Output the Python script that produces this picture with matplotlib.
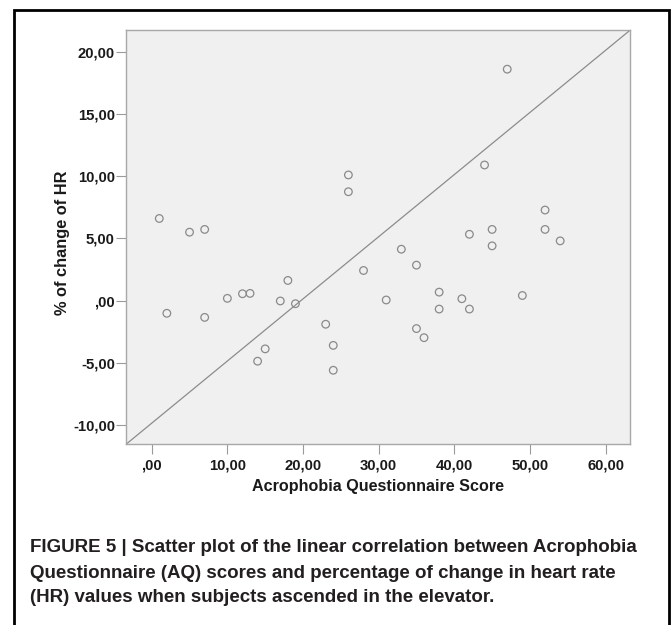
import matplotlib
matplotlib.use("Agg")
import matplotlib.pyplot as plt
from matplotlib.patches import Rectangle
from matplotlib import font_manager

# AQ score vs % change of HR
aq_score = [1, 5, 7, 26, 26, 47, 44, 52, 45, 52, 2, 7, 10, 12, 13, 17, 18, 19,
            15, 14, 23, 24, 24, 28, 42, 45, 54, 33, 35, 31, 38, 38, 41, 42, 49, 35, 36]
hr_change = [6.60, 5.50, 5.72, 10.10, 8.75, 18.60, 10.90, 7.28, 5.72, 5.72, -1.02,
             -1.35, 0.18, 0.55, 0.58, -0.03, 1.62, -0.25, -3.88, -4.87, -1.90, -3.60,
             -5.60, 2.42, 5.33, 4.40, 4.80, 4.13, 2.85, 0.05, 0.68, -0.68, 0.15, -0.68,
             0.41, -2.25, -2.98]

x_ticks = [0, 10, 20, 30, 40, 50, 60]
x_ticklabels = [",00", "10,00", "20,00", "30,00", "40,00", "50,00", "60,00"]
y_ticks = [-10, -5, 0, 5, 10, 15, 20]
y_ticklabels = ["-10,00", "-5,00", ",00", "5,00", "10,00", "15,00", "20,00"]
x_range = (-3.4, 63.27)
y_range = (-11.55, 21.75)

caption = ["FIGURE 5 | Scatter plot of the linear correlation between Acrophobia",
           "Questionnaire (AQ) scores and percentage of change in heart rate",
           "(HR) values when subjects ascended in the elevator."]

names = {f.name for f in font_manager.fontManager.ttflist}
cap_font = ["Liberation Sans Narrow"] if "Liberation Sans Narrow" in names else ["Liberation Sans"]
plt.rcParams['font.family'] = ['Liberation Sans', 'DejaVu Sans']

W, H = 672, 625
fig = plt.figure(figsize=(W / 100, H / 100), dpi=100)
ax = fig.add_axes([126 / W, 1 - 444.3 / H, (630.3 - 126) / W, (444.3 - 30) / H])
ax.set_facecolor("#f0f0f0")

ax.plot(x_range, y_range, color="#8c8c8c", lw=0.9, zorder=2)
ax.scatter(aq_score, hr_change, s=30, facecolors="none", edgecolors="#8a8a8a",
           linewidths=0.9, zorder=3)

ax.set_xlim(*x_range)
ax.set_ylim(*y_range)
ax.set_xticks(x_ticks)
ax.set_xticklabels(x_ticklabels)
ax.set_yticks(y_ticks)
ax.set_yticklabels(y_ticklabels)
for lab in ax.get_xticklabels() + ax.get_yticklabels():
    lab.set_fontweight("bold")
    lab.set_fontsize(10.7)
    lab.set_color("#1a1a1a")
ax.tick_params(axis="both", length=7, width=0.8, color="#9a9a9a")
ax.tick_params(axis="y", pad=1)
ax.tick_params(axis="x", pad=3)
for sp in ax.spines.values():
    sp.set_color("#a8a8a8")
    sp.set_linewidth(1.0)

fig.text(378 / W, 1 - 486 / H, "Acrophobia Questionnaire Score", ha="center", va="center",
         fontsize=11.6, fontweight="bold", color="#1a1a1a")
fig.text(62 / W, 1 - 242.5 / H, "% of change of HR", ha="center", va="center",
         rotation=90, fontsize=11.8, fontweight="bold", color="#1a1a1a")

for i, line in enumerate(caption):
    fig.text(30 / W, 1 - (548 + 25 * i) / H, line, ha="left", va="center",
             fontsize=13.5, fontweight="bold", color="#231f20", family=cap_font)

fig.patches.append(Rectangle((13.5 / W, -0.05), (669 - 13.5) / W, 1.05 - 9.5 / H,
                             transform=fig.transFigure, fill=False,
                             edgecolor="black", lw=2, zorder=10))

fig.savefig("out.png", dpi=100)
